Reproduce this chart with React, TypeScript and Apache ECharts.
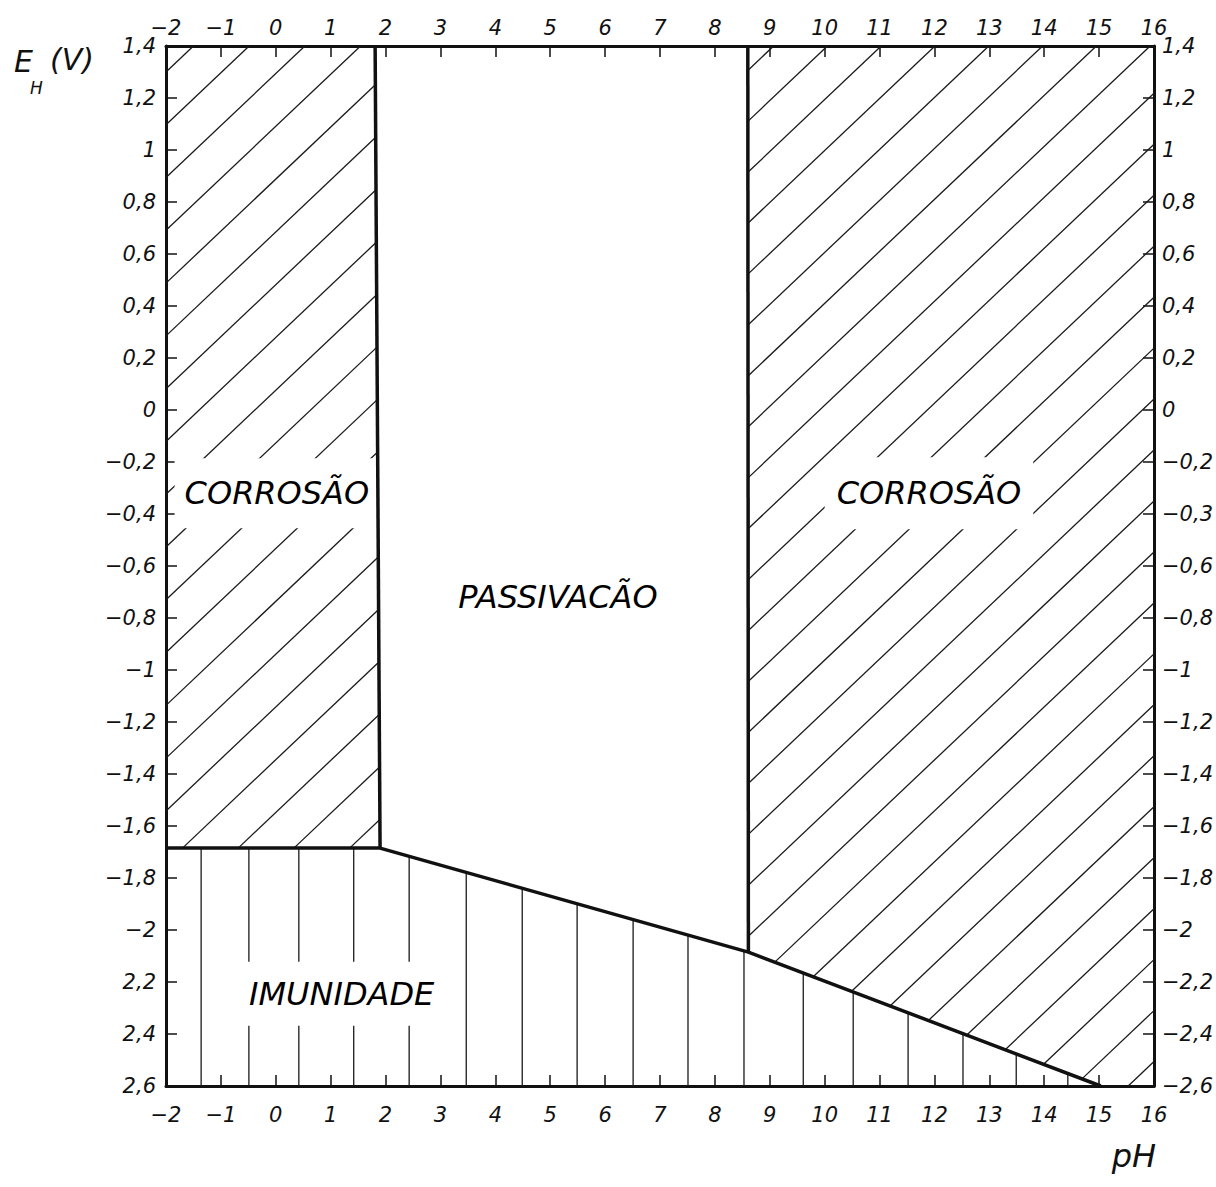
import React, { useEffect, useRef } from "react";
import * as echarts from "echarts";

// ---------- data ----------
const PH_MIN = -2;
const PH_MAX = 16;
const E_MIN = -2.6;
const E_MAX = 1.4;

const xTicks = [-2, -1, 0, 1, 2, 3, 4, 5, 6, 7, 8, 9, 10, 11, 12, 13, 14, 15, 16];
const xTickLabels = ["−2", "−1", "0", "1", "2", "3", "4", "5", "6", "7", "8", "9", "10", "11", "12", "13", "14", "15", "16"];

const yTicks = [1.4, 1.2, 1, 0.8, 0.6, 0.4, 0.2, 0, -0.2, -0.4, -0.6, -0.8, -1, -1.2, -1.4, -1.6, -1.8, -2, -2.2, -2.4, -2.6];
const yLeftLabels = ["1,4", "1,2", "1", "0,8", "0,6", "0,4", "0,2", "0", "−0,2", "−0,4", "−0,6", "−0,8", "−1", "−1,2", "−1,4", "−1,6", "−1,8", "−2", "2,2", "2,4", "2,6"];
const yRightLabels = ["1,4", "1,2", "1", "0,8", "0,6", "0,4", "0,2", "0", "−0,2", "−0,3", "−0,6", "−0,8", "−1", "−1,2", "−1,4", "−1,6", "−1,8", "−2", "−2,2", "−2,4", "−2,6"];

// boundary lines (pH, E)
const lowerLimit = [[-2, -1.685], [1.9, -1.685], [8.61, -2.085], [15.03, -2.6]];
const acidLimit = [[1.81, 1.4], [1.9, -1.685]];
const alkaliLimit = [[8.6, 1.4], [8.61, -2.085]];

// regions (pH, E)
const corrosionAcid = [[-2, 1.4], [1.81, 1.4], [1.9, -1.685], [-2, -1.685]];
const corrosionAlkali = [[8.6, 1.4], [16, 1.4], [16, -2.6], [15.03, -2.6], [8.61, -2.085]];
const immunity = [[-2, -1.685], [1.9, -1.685], [8.61, -2.085], [15.03, -2.6], [-2, -2.6]];

// vertical hatch positions in the immunity region (pH)
const immunityHatchPH = [-1.36, -0.49, 0.42, 1.42, 2.43, 3.47, 4.49, 5.49, 6.51, 7.51, 8.53, 9.61, 10.52, 11.52, 12.52, 13.49, 14.43];

// region names and anchors (pH, E)
const regionNames = ["CORROSÃO", "CORROSÃO", "PASSIVACÃO", "IMUNIDADE"];
const regionAnchors = [[0.02, -0.32], [11.9, -0.32], [5.14, -0.72], [1.2, -2.245]];

// ---------- style ----------
const INK = "#111";
const FONT = '"DejaVu Sans", "Liberation Sans", sans-serif';
const HATCH_SLOPE = 0.2; // V per pH unit
const labelPads = [
  [18, 10, 20, 10],
  [18, 12, 22, 12],
  [4, 4, 4, 4],
  [16, 6, 16, 6],
];

type Pt = number[];

function clipLine(a: Pt, b: Pt, poly: Pt[]): Pt[] | null {
  const ts: number[] = [];
  const dx = b[0] - a[0];
  const dy = b[1] - a[1];
  for (let i = 0; i < poly.length; i++) {
    const p = poly[i];
    const q = poly[(i + 1) % poly.length];
    const ex = q[0] - p[0];
    const ey = q[1] - p[1];
    const den = dx * ey - dy * ex;
    if (Math.abs(den) < 1e-9) continue;
    const wx = p[0] - a[0];
    const wy = p[1] - a[1];
    const t = (wx * ey - wy * ex) / den;
    const u = (wx * dy - wy * dx) / den;
    if (u >= -1e-9 && u <= 1 + 1e-9) ts.push(t);
  }
  if (ts.length < 2) return null;
  const t0 = Math.min(...ts);
  const t1 = Math.max(...ts);
  if (t1 - t0 < 1e-6) return null;
  return [
    [a[0] + dx * t0, a[1] + dy * t0],
    [a[0] + dx * t1, a[1] + dy * t1],
  ];
}

type Hatch =
  | { kind: "diag"; polygon: number[][]; refPH: number; refE: number; step: number }
  | { kind: "vert"; polygon: number[][]; positions: number[] };

const hatchRegions: Hatch[] = [
  { kind: "diag", polygon: corrosionAcid, refPH: -2, refE: 1.3, step: 0.203 },
  { kind: "diag", polygon: corrosionAlkali, refPH: 16, refE: -0.546, step: 0.196 },
  { kind: "vert", polygon: immunity, positions: immunityHatchPH },
];

function fmt(labels: string[], ticks: number[]) {
  return (v: number) => {
    const i = ticks.findIndex((t) => Math.abs(t - v) < 1e-6);
    return i >= 0 ? labels[i] : "";
  };
}

const axisLine = { show: true, onZero: false, lineStyle: { color: INK, width: 3 } };
const axisTick = { show: true, inside: true, length: 11, lineStyle: { color: INK, width: 1.5 } };
const labelBase = {
  fontSize: 21,
  fontStyle: "italic" as const,
  fontFamily: FONT,
  color: INK,
  showMinLabel: true,
  showMaxLabel: true,
};

function buildOption() {
  return {
    animation: false,
    backgroundColor: "#fff",
    grid: { left: 166, right: 62, top: 46, bottom: 101, containLabel: false, outerBoundsMode: "none" },
    xAxis: [
      {
        type: "value", position: "bottom", min: PH_MIN, max: PH_MAX, interval: 1,
        axisLine, axisTick, splitLine: { show: false },
        axisLabel: { ...labelBase, margin: 18, formatter: fmt(xTickLabels, xTicks) },
      },
      {
        type: "value", position: "top", min: PH_MIN, max: PH_MAX, interval: 1,
        axisLine, axisTick, splitLine: { show: false },
        axisLabel: { ...labelBase, margin: 8, formatter: fmt(xTickLabels, xTicks) },
      },
    ],
    yAxis: [
      {
        type: "value", position: "left", min: E_MIN, max: E_MAX, interval: 0.2,
        axisLine, axisTick, splitLine: { show: false },
        axisLabel: { ...labelBase, margin: 10, formatter: fmt(yLeftLabels, yTicks) },
      },
      {
        type: "value", position: "right", min: E_MIN, max: E_MAX, interval: 0.2,
        axisLine, axisTick, splitLine: { show: false },
        axisLabel: { ...labelBase, margin: 8, formatter: fmt(yRightLabels, yTicks) },
      },
    ],
    series: [
      {
        type: "custom",
        xAxisIndex: 0,
        yAxisIndex: 0,
        silent: true,
        z: 2,
        data: hatchRegions.map((_, i) => [i, 0]),
        renderItem: (params: any, api: any) => {
          const r = hatchRegions[params.dataIndex];
          const poly = r.polygon.map((p) => api.coord(p));
          const segs: Pt[][] = [];
          if (r.kind === "diag") {
            for (let k = -40; k <= 40; k++) {
              const e0 = r.refE - k * r.step;
              const a = api.coord([r.refPH - 30, e0 - HATCH_SLOPE * 30]);
              const b = api.coord([r.refPH + 30, e0 + HATCH_SLOPE * 30]);
              const s = clipLine(a, b, poly);
              if (s) segs.push(s);
            }
          } else {
            for (const ph of r.positions) {
              const a = api.coord([ph, 5]);
              const b = api.coord([ph, -5]);
              const s = clipLine(a, b, poly);
              if (s) segs.push(s);
            }
          }
          return {
            type: "group",
            children: segs.map((s) => ({
              type: "line",
              shape: { x1: s[0][0], y1: s[0][1], x2: s[1][0], y2: s[1][1] },
              style: { stroke: "#1a1a1a", lineWidth: 1.3 },
            })),
          };
        },
      },
      {
        type: "custom",
        xAxisIndex: 0,
        yAxisIndex: 0,
        silent: true,
        z: 5,
        data: regionAnchors,
        renderItem: (params: any, api: any) => {
          const i = params.dataIndex;
          const p = api.coord([api.value(0), api.value(1)]);
          return {
            type: "text",
            x: p[0],
            y: p[1],
            style: {
              text: regionNames[i],
              font: `italic 32px ${FONT}`,
              fill: "#000",
              align: "center",
              verticalAlign: "middle",
              textAlign: "center",
              textVerticalAlign: "middle",
              backgroundColor: "#fff",
              padding: labelPads[i],
            },
          };
        },
      },
      ...[lowerLimit, acidLimit, alkaliLimit].map((d) => ({
        type: "line",
        xAxisIndex: 0,
        yAxisIndex: 0,
        silent: true,
        z: 8,
        symbol: "none",
        data: d,
        lineStyle: { color: INK, width: 3.5 },
      })),
    ],
    graphic: [
      { type: "text", x: 14, y: 61, style: { text: "E", font: `italic 30px ${FONT}`, fill: INK, textVerticalAlign: "middle", verticalAlign: "middle" } },
      { type: "text", x: 30, y: 88, style: { text: "H", font: `italic 17px ${FONT}`, fill: INK, textVerticalAlign: "middle", verticalAlign: "middle" } },
      { type: "text", x: 50, y: 59, style: { text: "(V)", font: `italic 30px ${FONT}`, fill: INK, textVerticalAlign: "middle", verticalAlign: "middle" } },
      { type: "text", x: 1156, y: 1156, style: { text: "pH", font: `italic 32px ${FONT}`, fill: INK, textAlign: "right", align: "right", textVerticalAlign: "middle", verticalAlign: "middle" } },
    ],
  };
}

export default function App() {
  const ref = useRef<HTMLDivElement>(null);
  useEffect(() => {
    if (!ref.current) return;
    const chart = echarts.init(ref.current, null, { renderer: "svg" });
    chart.setOption(buildOption() as any);
    return () => chart.dispose();
  }, []);
  return (
    <div
      ref={ref}
      style={{ position: "absolute", left: 0, top: 0, width: 1216, height: 1187, background: "#fff" }}
    />
  );
}
